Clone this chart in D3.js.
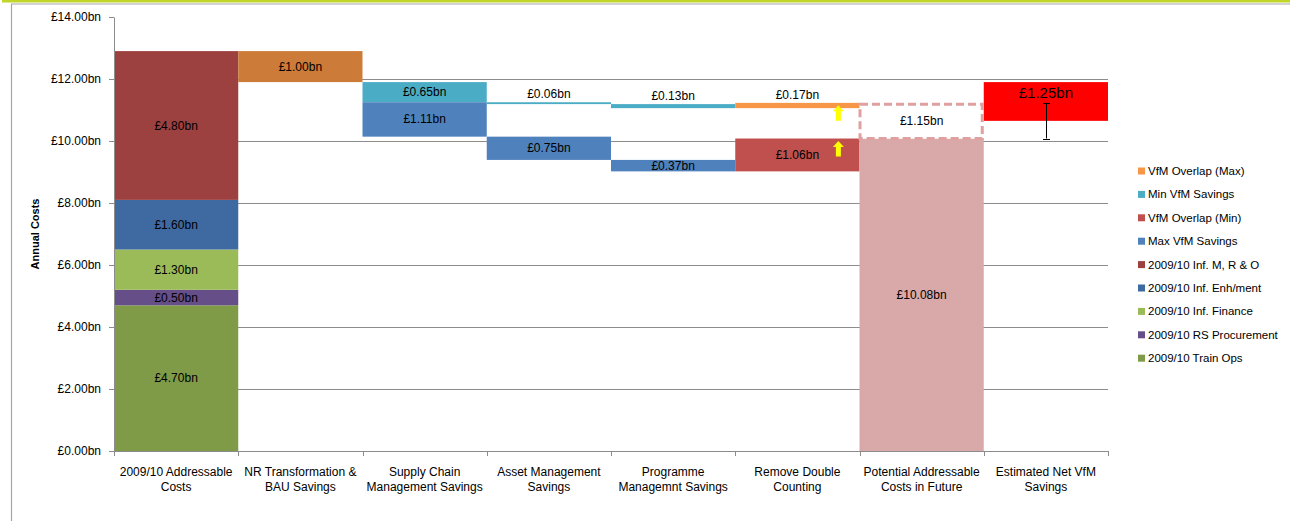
<!DOCTYPE html>
<html><head><meta charset="utf-8">
<script src="https://cdn.jsdelivr.net/npm/d3@7"></script>
<style>
html,body{margin:0;padding:0;background:#fff;}
svg{display:block;font-family:"Liberation Sans",Arial,sans-serif;}
</style></head>
<body>
<svg id="chart" width="1290" height="521"></svg>
<script>
// ---------------- data ----------------
const categories = [
  "2009/10 Addressable\nCosts",
  "NR Transformation  &\nBAU Savings",
  "Supply Chain\nManagement Savings",
  "Asset Management\nSavings",
  "Programme\nManagemnt Savings",
  "Remove Double\nCounting",
  "Potential Addressable\nCosts in Future",
  "Estimated Net VfM\nSavings"
];
const stackSeries = ["2009/10 Train Ops","2009/10 RS Procurement","2009/10 Inf. Finance","2009/10 Inf. Enh/ment","2009/10 Inf. M, R & O"];
const stackValues = [4.70, 0.50, 1.30, 1.60, 4.80];
const nrSavings   = [null, 1.00, null, null, null, null, null, null];
const minVfM      = [null, null, 0.65, 0.06, 0.13, null, null, null];
const maxVfM      = [null, null, 1.11, 0.75, 0.37, null, null, null];
const overlapMax  = [null, null, null, null, null, 0.17, null, null];
const overlapMin  = [null, null, null, null, null, 1.06, null, null];
const potential   = [null, null, null, null, null, null, 10.08, null];
const potentialRange = [null, null, null, null, null, null, 1.15, null];
const netVfM      = [null, null, null, null, null, null, null, 1.25];
const yTicks = [0, 2, 4, 6, 8, 10, 12, 14];
const legendNames = ["VfM Overlap (Max)","Min VfM  Savings","VfM Overlap (Min)","Max VfM  Savings","2009/10 Inf. M, R & O","2009/10 Inf. Enh/ment","2009/10 Inf. Finance","2009/10 RS Procurement","2009/10 Train Ops"];

// ---------------- styles ----------------
const colors = {
  "2009/10 Train Ops":"#7F9B48","2009/10 RS Procurement":"#664E88","2009/10 Inf. Finance":"#9BBB59",
  "2009/10 Inf. Enh/ment":"#3E69A1","2009/10 Inf. M, R & O":"#9C4140",
  "VfM Overlap (Max)":"#F79646","Min VfM  Savings":"#4BACC6","VfM Overlap (Min)":"#C0504D","Max VfM  Savings":"#4F81BD",
  nr:"#CD7B39", potential:"#D9A9A9", dash:"#E0A0A0", net:"#FF0000"
};
const fmt = v => "£" + d3.format(".2f")(v) + "bn";

const svg = d3.select("#chart");
const x = d3.scaleBand().domain(categories).range([114, 1108]).padding(0);
const y = d3.scaleLinear().domain([0, 14]).range([451, 17]);

// frame
svg.append("rect").attr("x",2).attr("y",0).attr("width",1288).attr("height",2.5).attr("fill","#C2D62A");
svg.append("line").attr("x1",11).attr("x2",1290).attr("y1",4).attr("y2",4).attr("stroke","#A6A6A6").attr("stroke-width",1.2);
svg.append("line").attr("x1",11.5).attr("x2",11.5).attr("y1",4).attr("y2",521).attr("stroke","#A6A6A6").attr("stroke-width",1.2);

// gridlines
svg.append("g").selectAll("line").data(yTicks.filter(t => t > 0 && t < 14)).join("line")
  .attr("x1",114).attr("x2",1108).attr("y1",d=>Math.round(y(d))+0.5).attr("y2",d=>Math.round(y(d))+0.5)
  .attr("stroke","#8C8C8C").attr("stroke-width",1);

// ---------------- build segments ----------------
const segs = [];   // {cat, lo, hi, color, label, labelPos}
let acc = 0;
stackValues.forEach((v,i) => {
  segs.push({cat:categories[0], lo:acc, hi:acc+v, color:colors[stackSeries[i]], label:fmt(v), pos:"center"});
  acc += v;
});
let level = acc;
let minLevel = null, maxLevel = null;
categories.forEach((c,i) => {
  if (nrSavings[i] != null) {
    segs.push({cat:c, lo:level-nrSavings[i], hi:level, color:colors.nr, label:fmt(nrSavings[i]), pos:"center"});
    level -= nrSavings[i];
    minLevel = level;
  }
  if (minVfM[i] != null) {
    const v = minVfM[i];
    const thin = (y(minLevel-v) - y(minLevel)) < 8;
    segs.push({cat:c, lo:minLevel-v, hi:minLevel, color:colors["Min VfM  Savings"], label:fmt(v), pos: thin ? "above" : "center"});
    minLevel -= v;
    if (maxLevel == null) maxLevel = minLevel;
  }
  if (maxVfM[i] != null) {
    const v = maxVfM[i];
    segs.push({cat:c, lo:maxLevel-v, hi:maxLevel, color:colors["Max VfM  Savings"], label:fmt(v), pos:"center"});
    maxLevel -= v;
  }
  if (overlapMax[i] != null) {
    const v = overlapMax[i];
    segs.push({cat:c, lo:minLevel, hi:minLevel+v, color:colors["VfM Overlap (Max)"], label:fmt(v), pos:"above"});
    minLevel += v;
  }
  if (overlapMin[i] != null) {
    const v = overlapMin[i];
    segs.push({cat:c, lo:maxLevel, hi:maxLevel+v, color:colors["VfM Overlap (Min)"], label:fmt(v), pos:"center"});
    maxLevel += v;
  }
  if (potential[i] != null) {
    segs.push({cat:c, lo:0, hi:potential[i], color:colors.potential, label:fmt(potential[i]), pos:"center"});
  }
  if (netVfM[i] != null) {
    segs.push({cat:c, lo:level-netVfM[i], hi:level, color:colors.net, label:fmt(netVfM[i]), pos:"top", big:true});
  }
});

// bars
svg.append("g").selectAll("rect").data(segs).join("rect")
  .attr("x", d => x(d.cat)).attr("width", x.bandwidth())
  .attr("y", d => y(d.hi)).attr("height", d => y(d.lo) - y(d.hi))
  .attr("fill", d => d.color);

// dashed potential range box
categories.forEach((c,i) => {
  if (potentialRange[i] != null) {
    const lo = potential[i], hi = potential[i] + potentialRange[i];
    svg.append("rect").attr("x", x(c)+0.5).attr("width", x.bandwidth()-2)
      .attr("y", y(hi)+1.5).attr("height", y(lo)-y(hi)-1.5)
      .attr("fill","#fff").attr("stroke",colors.dash).attr("stroke-width",3).attr("stroke-dasharray","8,4");
    svg.append("text").attr("x", x(c)+x.bandwidth()/2).attr("y", (y(lo)+y(hi))/2)
      .attr("text-anchor","middle").attr("dominant-baseline","central")
      .attr("font-size",12).attr("fill","#000").text(fmt(potentialRange[i]));
  }
});

// labels
svg.append("g").selectAll("text").data(segs).join("text")
  .attr("x", d => x(d.cat) + x.bandwidth()/2)
  .attr("y", d => d.pos === "above" ? y(d.hi) - 8 : d.pos === "top" ? y(d.hi) + 10 : (y(d.hi)+y(d.lo))/2)
  .attr("text-anchor","middle").attr("dominant-baseline","central")
  .attr("font-size", d => d.big ? 15 : 12).attr("fill","#000")
  .text(d => d.label);

// yellow arrows in "Remove Double Counting"
const rdc = categories[5];
const arrowTips = [minLevel, maxLevel];
const ax = x(rdc) + x.bandwidth()*0.83;
arrowTips.forEach(v => {
  const t = y(v) + 2.5;
  const p = `M${ax},${t} L${ax+5.5},${t+6} L${ax+2.5},${t+6} L${ax+2.5},${t+15.5} L${ax-2.5},${t+15.5} L${ax-2.5},${t+6} L${ax-5.5},${t+6} Z`;
  svg.append("path").attr("d", p).attr("fill","#FFFF00");
});

// error bar on net VfM (range between min and max chains)
categories.forEach((c,i) => {
  if (netVfM[i] != null) {
    const cx = Math.round(x(c) + x.bandwidth()/2) + 0.5;
    const g = svg.append("g").attr("stroke","#000").attr("stroke-width",1);
    g.append("line").attr("x1",cx).attr("x2",cx).attr("y1",y(minLevel)).attr("y2",y(maxLevel));
    [minLevel, maxLevel].forEach(v => g.append("line").attr("x1",cx-3.5).attr("x2",cx+3.5).attr("y1",Math.round(y(v))+0.5).attr("y2",Math.round(y(v))+0.5));
  }
});

// y axis
const yAxis = svg.append("g").attr("transform","translate(114,0)")
  .call(d3.axisLeft(y).tickValues(yTicks).tickFormat(fmt).tickSize(5).tickSizeOuter(0).tickPadding(8));
yAxis.select(".domain").attr("stroke","#8C8C8C");
yAxis.selectAll(".tick line").attr("stroke","#8C8C8C");
yAxis.selectAll("text").attr("font-size",12).attr("fill","#000").attr("font-family","Liberation Sans, Arial, sans-serif");

// x axis
const xAxis = svg.append("g").attr("transform","translate(0,451)")
  .call(d3.axisBottom(x).tickSize(0).tickSizeOuter(0).tickPadding(0));
xAxis.select(".domain").attr("stroke","#8C8C8C");
xAxis.selectAll(".tick text").each(function(d){
  const t = d3.select(this).text("").attr("y",0).attr("dy",null)
    .attr("font-size",12).attr("fill","#000").attr("font-family","Liberation Sans, Arial, sans-serif");
  d.split("\n").forEach((line,k) => t.append("tspan").attr("x",0).attr("y", 25 + k*15).text(line));
});
const bounds = categories.map(c => x(c)).concat([x(categories[categories.length-1]) + x.bandwidth()]);
svg.append("g").selectAll("line").data(bounds).join("line")
  .attr("x1",d=>Math.round(d)+0.5).attr("x2",d=>Math.round(d)+0.5).attr("y1",451).attr("y2",456)
  .attr("stroke","#8C8C8C");

// y axis title
svg.append("text").attr("transform","translate(39,234) rotate(-90)")
  .attr("text-anchor","middle").attr("font-size",11).attr("font-weight","bold").attr("fill","#000")
  .text("Annual Costs");

// legend
const lg = svg.append("g").selectAll("g").data(legendNames).join("g")
  .attr("transform",(d,i)=>`translate(1138,${171 + i*23.4})`);
lg.append("rect").attr("x",0).attr("y",-3.5).attr("width",7).attr("height",7).attr("fill",d=>colors[d]);
lg.append("text").attr("x",10).attr("y",0).attr("dominant-baseline","central")
  .attr("font-size",11.5).attr("fill","#000").text(d=>d);
</script>
</body></html>
